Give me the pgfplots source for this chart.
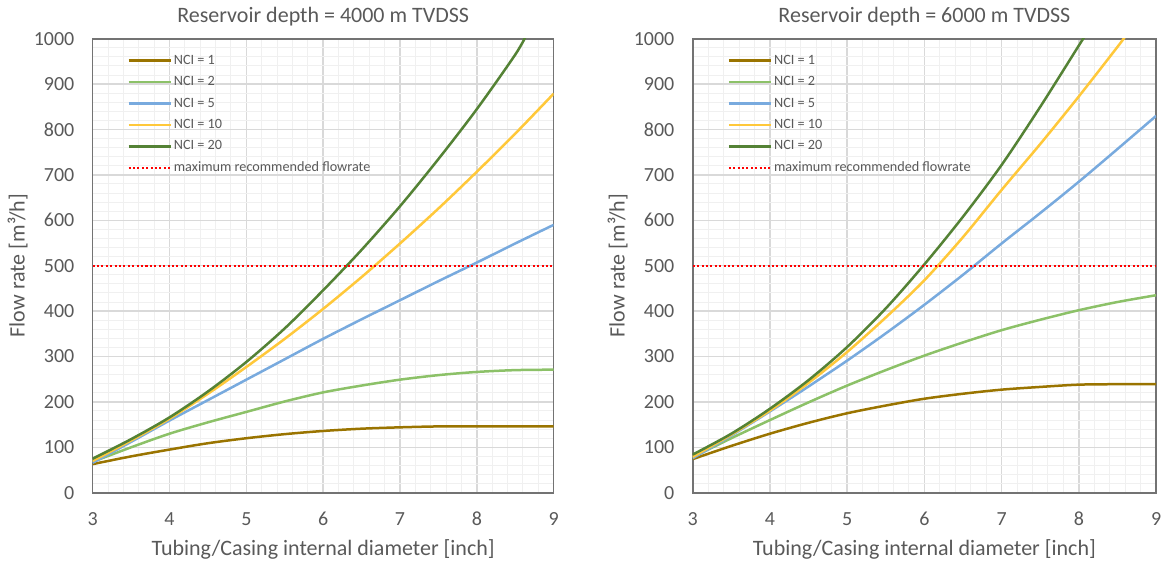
\documentclass[border=0pt]{standalone}
\usepackage{fontspec}
\setmainfont{Carlito}
\usepackage{pgfplots}
\pgfplotsset{compat=1.18}
\definecolor{nciA}{HTML}{9A7400}
\definecolor{nciB}{HTML}{8CC168}
\definecolor{nciE}{HTML}{78AADE}
\definecolor{nciJ}{HTML}{FFC83A}
\definecolor{nciT}{HTML}{548235}
\definecolor{txt}{HTML}{595959}
\definecolor{gridmaj}{HTML}{D9D9D9}
\definecolor{gridmin}{HTML}{F0F0F0}

\pgfplotsset{panel/.style={
  scale only axis, width=230.5pt, height=227pt,
  xmin=3, xmax=9, ymin=0, ymax=1000,
  xtick={3,...,9}, ytick={0,100,...,1000},
  minor x tick num=4, minor y tick num=4,
  grid=both,
  major grid style={draw=gridmaj, line width=0.75pt},
  minor grid style={draw=gridmin, line width=0.5pt},
  axis line style={draw=black!55, line width=0.8pt},
  major tick length=0pt, minor tick length=0pt,
  tick label style={font=\fontsize{10}{12}\selectfont, text=txt},
  /pgf/number format/assume math mode=true,
  /pgf/number format/1000 sep={},
  xticklabel style={anchor=center, yshift=-13pt},
  yticklabel style={anchor=east, inner sep=0pt, xshift=-9pt},
  xlabel={Tubing/Casing internal diameter [inch]},
  ylabel={Flow rate [m³/h]},
  label style={font=\fontsize{11}{13}\selectfont, text=txt},
  xlabel style={at={(axis description cs:0.5,0)}, anchor=base, yshift=-31.5pt},
  ylabel style={at={(axis description cs:0,0.5)}, anchor=center, rotate=0, yshift=37.5pt},
  every axis title shift=0pt,
  title style={font=\fontsize{11}{13}\selectfont, text=txt, at={(axis description cs:0.5,1)}, anchor=base, yshift=8.2pt},
  legend style={draw=none, fill=none, inner sep=0pt,
    at={(axis description cs:0.0744,0.9715)}, anchor=north west,
    font=\fontsize{7.1}{8.5}\selectfont, text=txt, row sep=2.34pt,
    nodes={inner sep=1pt, text height=5pt, text depth=1.4pt}},
  legend cell align=left,
  legend image code/.code={\draw[##1] (0pt,0pt) -- (21pt,0pt);},
  every axis plot/.append style={line width=1.25pt, smooth},
}}

\begin{document}
\begin{tikzpicture}
\path[use as bounding box] (-46.35pt,-35.15pt) rectangle (536.15pt,246.35pt);

\begin{axis}[panel, title={Reservoir depth = 4000 m TVDSS}]
\addplot[nciA] coordinates {(3,63) (3.5,80) (4,95) (4.5,109) (5,120) (5.5,129) (6,136) (6.5,141) (7,144) (7.5,146) (8,146) (8.5,146) (9,146)};
\addplot[nciB] coordinates {(3,68) (3.5,100) (4,130) (4.5,155) (5,178) (5.5,201) (6,221) (6.5,236) (7,249) (7.5,259) (8,266) (8.5,270) (9,271)};
\addplot[nciE] coordinates {(3,66) (3.5,112) (4,159) (4.5,204) (5,249) (5.5,294) (6,339) (6.5,382) (7,424) (7.5,466) (8,507) (8.5,549) (9,590)};
\addplot[nciJ] coordinates {(3,70) (3.5,115) (4,163) (4.5,218) (5,277) (5.5,339) (6,405) (6.5,475) (7,549) (7.5,626) (8,707) (8.5,791) (9,879)};
\addplot[nciT] coordinates {(3,75) (3.5,118) (4,166) (4.5,223) (5,288) (5.5,362) (6,446) (6.5,535) (7,631) (7.5,735) (8,845) (8.5,965) (8.65,1010)};
\addplot[red, line width=1.2pt, dash pattern=on 1pt off 1.2pt, sharp plot] coordinates {(3,500) (9,500)};
\legend{NCI = 1, NCI = 2, NCI = 5, NCI = 10, NCI = 20, maximum recommended flowrate}
\end{axis}

\begin{axis}[panel, at={(300pt,0pt)}, width=231.7pt, title={Reservoir depth = 6000 m TVDSS}]
\addplot[nciA] coordinates {(3,74) (3.5,103) (4,130) (4.5,154) (5,175) (5.5,192) (6,207) (6.5,218) (7,227) (7.5,233) (8,238) (8.5,239) (9,239)};
\addplot[nciB] coordinates {(3,78) (3.5,120) (4,160) (4.5,199) (5,236) (5.5,270) (6,302) (6.5,331) (7,358) (7.5,381) (8,402) (8.5,420) (9,435)};
\addplot[nciE] coordinates {(3,76) (3.5,126) (4,179) (4.5,234) (5,291) (5.5,351) (6,414) (6.5,480) (7,549) (7.5,616) (8,685) (8.5,757) (9,830)};
\addplot[nciJ] coordinates {(3,79) (3.5,128) (4,181) (4.5,242) (5,310) (5.5,386) (6,468) (6.5,563) (7,667) (7.5,768) (8,873) (8.5,982) (8.6,1005)};
\addplot[nciT] coordinates {(3,84) (3.5,130) (4,185) (4.5,248) (5,321) (5.5,406) (6,503) (6.5,608) (7,722) (7.5,850) (8,985) (8.1,1012)};
\addplot[red, line width=1.2pt, dash pattern=on 1pt off 1.2pt, sharp plot] coordinates {(3,500) (9,500)};
\legend{NCI = 1, NCI = 2, NCI = 5, NCI = 10, NCI = 20, maximum recommended flowrate}
\end{axis}
\end{tikzpicture}
\end{document}
